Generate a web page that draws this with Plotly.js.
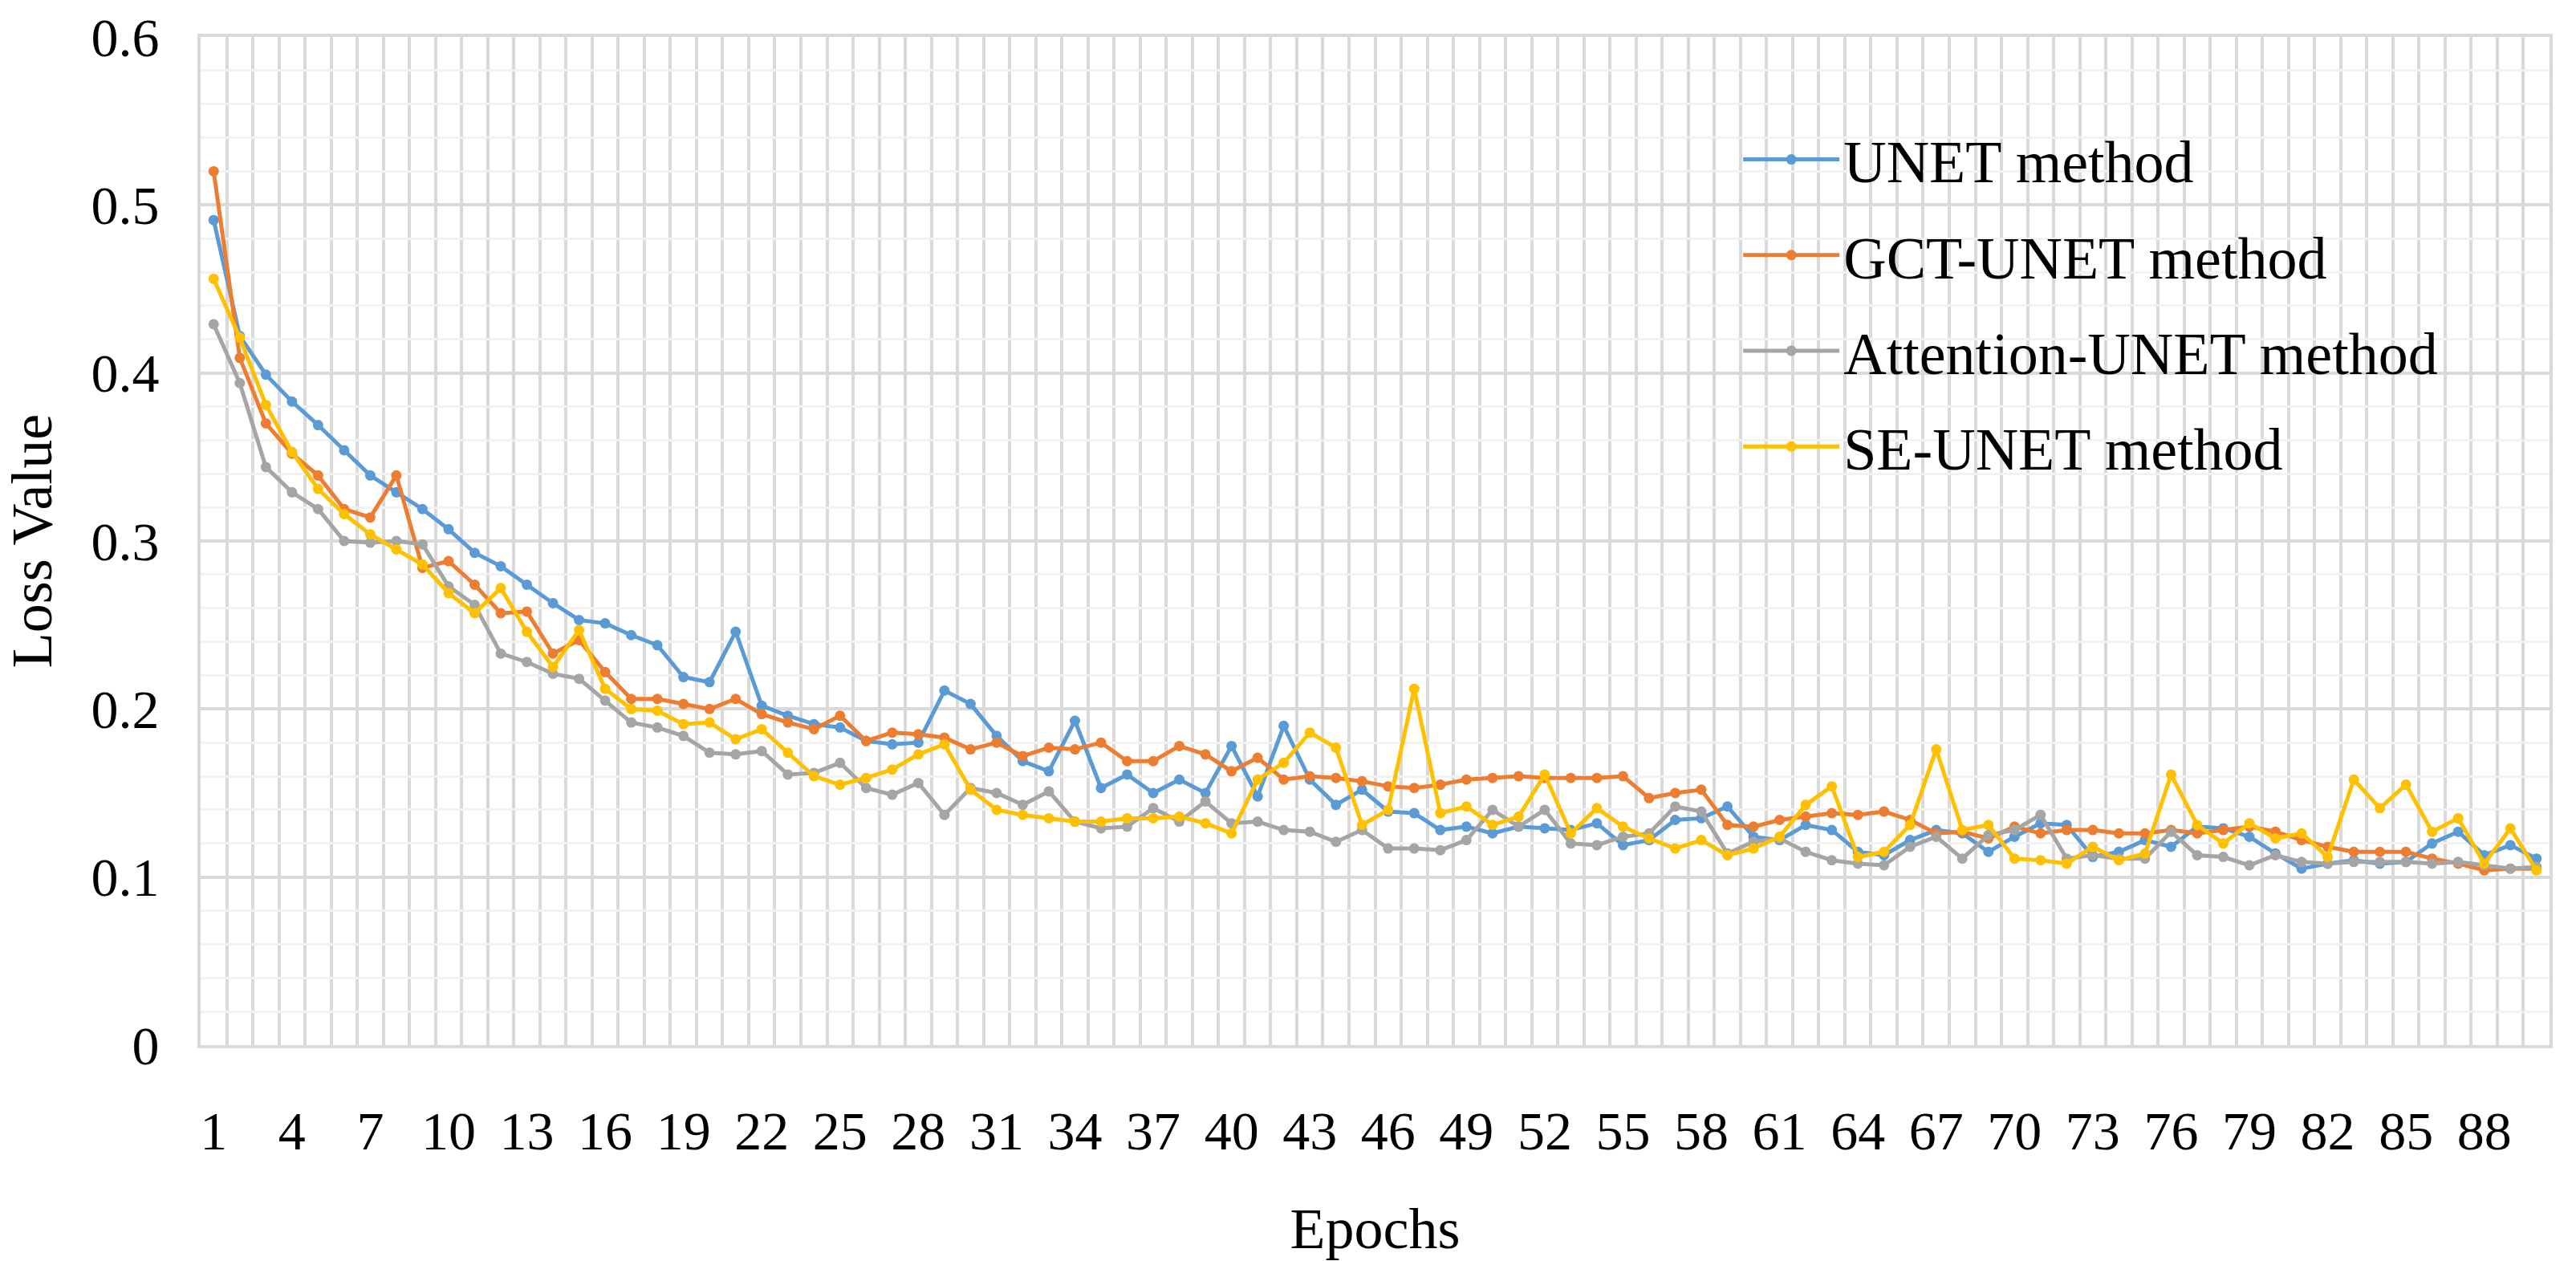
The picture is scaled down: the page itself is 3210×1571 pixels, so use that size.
<!DOCTYPE html>
<html>
<head>
<meta charset="utf-8">
<script src="https://cdn.plot.ly/plotly-3.0.1.min.js"></script>
<style>html,body{margin:0;padding:0;background:#fff;}#chart{width:3210px;height:1571px;}</style>
</head>
<body>
<div id="chart"></div>
<script>
const epochs = Array.from({length: 90}, (_, i) => i + 1);
const xTickVals = [1,4,7,10,13,16,19,22,25,28,31,34,37,40,43,46,49,52,55,58,61,64,67,70,73,76,79,82,85,88];

const unet = [0.491,0.422,0.399,0.383,0.369,0.354,0.339,0.329,0.319,0.307,
0.293,0.285,0.274,0.263,0.253,0.251,0.244,0.238,0.219,0.216,
0.246,0.202,0.196,0.191,0.189,0.181,0.179,0.180,0.211,0.203,
0.184,0.169,0.163,0.193,0.153,0.161,0.150,0.158,0.150,0.178,
0.148,0.190,0.158,0.143,0.152,0.139,0.138,0.128,0.130,0.126,
0.130,0.129,0.128,0.132,0.119,0.122,0.134,0.135,0.142,0.124,
0.122,0.131,0.128,0.115,0.113,0.122,0.128,0.126,0.115,0.124,
0.132,0.131,0.112,0.115,0.122,0.118,0.130,0.129,0.124,0.114,
0.105,0.108,0.110,0.108,0.109,0.120,0.127,0.113,0.119,0.111];

const gctUnet = [0.520,0.409,0.370,0.352,0.339,0.319,0.314,0.339,0.284,0.288,
0.274,0.257,0.258,0.233,0.241,0.222,0.206,0.206,0.203,0.200,
0.206,0.197,0.192,0.188,0.196,0.181,0.186,0.185,0.183,0.176,
0.180,0.172,0.177,0.176,0.180,0.169,0.169,0.178,0.173,0.163,
0.171,0.158,0.160,0.159,0.157,0.154,0.153,0.155,0.158,0.159,
0.160,0.159,0.159,0.159,0.160,0.147,0.150,0.152,0.131,0.130,
0.134,0.136,0.138,0.137,0.139,0.134,0.126,0.127,0.123,0.130,
0.126,0.128,0.128,0.126,0.126,0.128,0.126,0.128,0.130,0.127,
0.122,0.118,0.115,0.115,0.115,0.111,0.108,0.104,0.105,0.105];

const attentionUnet = [0.429,0.394,0.344,0.329,0.319,0.300,0.299,0.300,0.298,0.273,
0.262,0.233,0.228,0.221,0.218,0.205,0.192,0.189,0.184,0.174,
0.173,0.175,0.161,0.162,0.168,0.153,0.149,0.156,0.137,0.153,
0.150,0.143,0.151,0.133,0.129,0.130,0.141,0.133,0.145,0.132,
0.133,0.128,0.127,0.121,0.128,0.117,0.117,0.116,0.122,0.140,
0.130,0.140,0.120,0.119,0.124,0.126,0.142,0.139,0.114,0.121,
0.123,0.115,0.110,0.108,0.107,0.118,0.124,0.111,0.125,0.128,
0.137,0.111,0.113,0.111,0.111,0.127,0.113,0.112,0.107,0.113,
0.109,0.108,0.109,0.109,0.109,0.108,0.109,0.107,0.105,0.106];

const seUnet = [0.456,0.421,0.381,0.353,0.331,0.316,0.304,0.295,0.286,0.269,
0.257,0.272,0.246,0.225,0.247,0.212,0.200,0.199,0.191,0.192,
0.182,0.188,0.174,0.160,0.155,0.159,0.164,0.173,0.179,0.152,
0.140,0.137,0.135,0.133,0.133,0.135,0.135,0.136,0.132,0.126,
0.158,0.168,0.186,0.177,0.131,0.140,0.212,0.138,0.142,0.131,
0.136,0.161,0.126,0.141,0.130,0.123,0.117,0.122,0.113,0.117,
0.124,0.143,0.154,0.112,0.115,0.131,0.176,0.128,0.131,0.111,
0.110,0.108,0.118,0.110,0.114,0.161,0.131,0.120,0.132,0.123,
0.126,0.112,0.158,0.141,0.155,0.127,0.135,0.108,0.129,0.104];

const seriesNames = ['UNET method','GCT-UNET method','Attention-UNET method','SE-UNET method'];
const seriesColors = ['#5B9BD5','#ED7D31','#A5A5A5','#FFC000'];
const seriesValues = [unet, gctUnet, attentionUnet, seUnet];

const fontFamily = '"Palatino Linotype","Book Antiqua",Palatino,"Liberation Serif","Times New Roman",serif';

const traces = seriesValues.map((vals, i) => ({
  type: 'scatter',
  mode: 'lines+markers',
  x: epochs,
  y: vals,
  name: seriesNames[i],
  legendgroup: 'g' + i,
  line: {color: seriesColors[i], width: 5},
  marker: {color: seriesColors[i], size: 13},
  hoverinfo: 'x+y+name'
}));

const layout = {
  width: 3210,
  height: 1571,
  margin: {l: 250, r: 33, t: 46, b: 269},
  paper_bgcolor: '#ffffff',
  plot_bgcolor: '#ffffff',
  font: {family: fontFamily, size: 68, color: '#000000'},
  showlegend: true,
  legend: {
    x: 0.655, y: 0.922, xanchor: 'left', yanchor: 'top',
    bgcolor: 'rgba(0,0,0,0)',
    font: {family: fontFamily, size: 74, color: '#000000'},
    tracegroupgap: 20,
    itemwidth: 120,
    traceorder: 'grouped'
  },
  xaxis: {
    range: [0.5, 90.5],
    tickmode: 'array',
    tickvals: xTickVals,
    ticktext: xTickVals.map(String),
    showgrid: false,
    zeroline: false,
    ticks: '',
    ticklabelstandoff: 44,
    tickfont: {family: fontFamily, size: 68, color: '#000000'},
    showline: true, linecolor: '#d9d9d9', linewidth: 4, mirror: true,
    minor: {tick0: 0.5, dtick: 1, showgrid: true, gridcolor: '#d9d9d9', gridwidth: 4, ticks: ''},
    title: {text: 'Epochs', font: {family: fontFamily, size: 72, color: '#000000'}, standoff: 72}
  },
  yaxis: {
    range: [0, 0.6],
    tick0: 0,
    dtick: 0.1,
    showgrid: true,
    gridcolor: '#d9d9d9',
    gridwidth: 4,
    zeroline: false,
    ticks: '',
    ticklabelstandoff: 34,
    tickfont: {family: fontFamily, size: 68, color: '#000000'},
    showline: true, linecolor: '#d9d9d9', linewidth: 4, mirror: true,
    minor: {tick0: 0, dtick: 0.02, showgrid: true, gridcolor: '#f2f2f2', gridwidth: 3, ticks: ''},
    title: {text: 'Loss Value', font: {family: fontFamily, size: 72, color: '#000000'}, standoff: 44}
  }
};

Plotly.newPlot('chart', traces, layout, {displayModeBar: false, staticPlot: true});
</script>
</body>
</html>
